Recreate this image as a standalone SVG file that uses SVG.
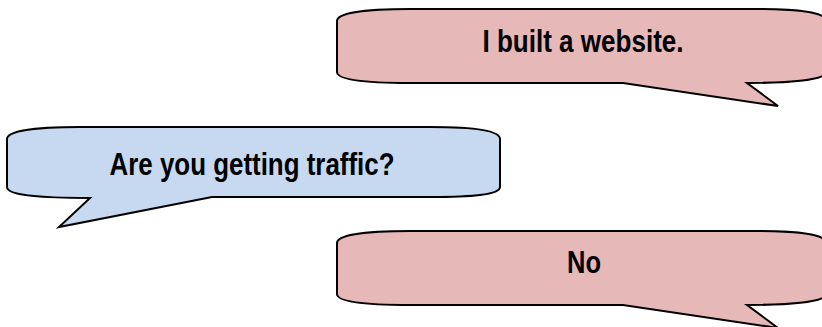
<svg xmlns="http://www.w3.org/2000/svg" width="822" height="327" viewBox="0 0 822 327">
<style>
.bubble{stroke:#000;stroke-width:2;stroke-linejoin:miter}
.pink{fill:#e6b8b7}
.blue{fill:#c6d9f1}
.t{font-family:"Liberation Sans Narrow","Liberation Sans",Arial,sans-serif;font-weight:bold;font-size:31px;fill:#000;text-anchor:middle}
</style>
<rect width="822" height="327" fill="#fff"/>
<g id="bubble1">
<path class="bubble pink" d="M337,21 C337,13 365,9 410,9 L750,9 C800,9 826,12 826,21 L826,72 C826,80 790,83 747,83 L778,106 L623,83 L410,83 C365,83 337,80 337,72 Z"/>
<text class="t" x="583" y="52" textLength="201" lengthAdjust="spacingAndGlyphs">I built a website.</text>
</g>
<g id="bubble2">
<path class="bubble blue" d="M7,139 C7,131 35,127 80,127 L430,127 C475,127 500,131 500,139 L500,187 C500,195 470,197 430,197 L212,197 L59,227 L90,198 C45,198 7,196 7,187 Z"/>
<text class="t" x="252" y="175" textLength="285" lengthAdjust="spacingAndGlyphs">Are you getting traffic?</text>
</g>
<g id="bubble3">
<path class="bubble pink" d="M337,243 C337,235 365,231 410,231 L750,231 C800,231 826,234 826,243 L826,294 C826,302 790,305 747,305 L778,328 L623,305 L410,305 C365,305 337,302 337,294 Z"/>
<text class="t" x="584" y="273" textLength="34" lengthAdjust="spacingAndGlyphs">No</text>
</g>
<g id="connectors"></g>
</svg>
